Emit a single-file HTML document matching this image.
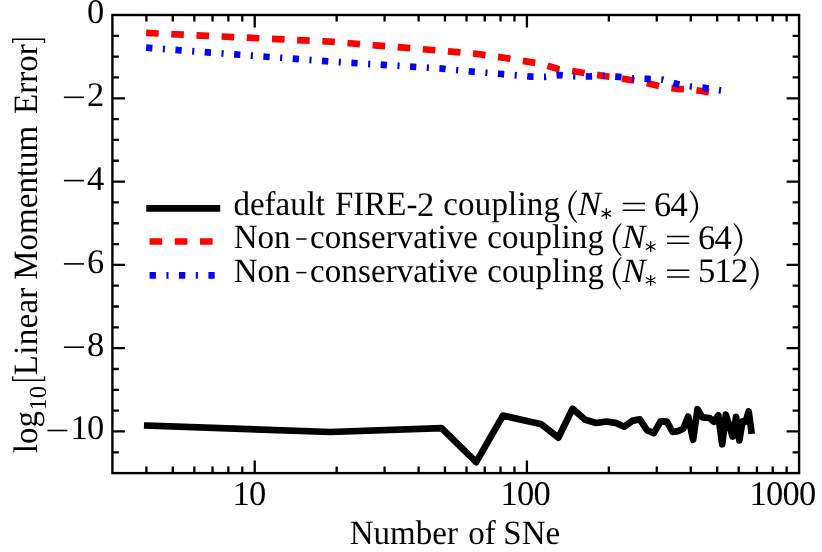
<!DOCTYPE html><html><head><meta charset="utf-8"><title>chart</title><style>html,body{margin:0;padding:0;background:#fff;}svg{display:block;will-change:transform;}text{font-family:"Liberation Serif",serif;fill:#000;text-rendering:geometricPrecision;}</style></head><body>
<svg width="822" height="552" viewBox="0 0 822 552">
<rect x="0" y="0" width="822" height="552" fill="#fff"/>
<polyline points="147.3,425.6 330.2,432.0 441.6,428.2 476.2,462.2 502.9,415.6 541.5,424.3 558.3,437.7 572.6,408.7 585.2,419.8 596.2,423.0 606.5,421.5 615.6,422.9 624.2,426.7 632.8,420.6 639.8,419.4 647.2,430.3 653.8,433.1 660.6,421.3 666.9,421.7 672.6,432.0 677.9,431.1 683.2,428.8 688.2,416.5 693.1,439.8 697.5,409.2 702.4,417.4 709.6,418.0 713.9,421.8 718.3,415.3 722.2,444.3 725.8,414.7 732.6,436.6 736.1,416.9 739.3,440.4 742.6,421.3 745.5,421.8 748.7,411.4 751.3,430.6" fill="none" stroke="#000" stroke-width="6.7" stroke-linejoin="round" stroke-linecap="square"/>
<polyline points="146.1,32.9 330.0,41.6 442.0,50.8 476.0,53.8 503.0,57.6 541.0,63.8 558.0,69.0 572.0,71.0 604.0,76.0 629.0,79.7 641.0,81.5 654.0,84.8 666.0,87.5 678.0,88.8 691.0,89.5 710.0,92.3" fill="none" stroke="#f00" stroke-width="6.7" stroke-linejoin="miter" stroke-dasharray="12.6 12.6"/>
<polyline points="146.1,47.7 330.0,61.5 442.0,68.6 476.0,72.0 503.0,74.2 531.0,76.6 545.0,76.8 560.0,75.0 574.0,76.2 589.0,76.5 604.0,75.9 619.0,76.9 633.0,78.3 648.0,78.9 663.0,79.7 677.0,84.0 691.0,86.5 706.0,88.0 721.0,90.5" fill="none" stroke="#00f" stroke-width="6.7" stroke-linejoin="miter" stroke-dasharray="6.3 10.5 2.1 10.5"/>
<path d="M146.41,473.10v-6.50M146.41,15.00v6.50M172.78,473.10v-6.50M172.78,15.00v6.50M194.34,473.10v-6.50M194.34,15.00v6.50M212.56,473.10v-6.50M212.56,15.00v6.50M228.34,473.10v-6.50M228.34,15.00v6.50M242.27,473.10v-6.50M242.27,15.00v6.50M254.72,473.10v-12.50M254.72,15.00v12.50M336.66,473.10v-6.50M336.66,15.00v6.50M384.59,473.10v-6.50M384.59,15.00v6.50M418.60,473.10v-6.50M418.60,15.00v6.50M444.97,473.10v-6.50M444.97,15.00v6.50M466.53,473.10v-6.50M466.53,15.00v6.50M484.75,473.10v-6.50M484.75,15.00v6.50M500.53,473.10v-6.50M500.53,15.00v6.50M514.46,473.10v-6.50M514.46,15.00v6.50M526.91,473.10v-12.50M526.91,15.00v12.50M608.85,473.10v-6.50M608.85,15.00v6.50M656.78,473.10v-6.50M656.78,15.00v6.50M690.79,473.10v-6.50M690.79,15.00v6.50M717.16,473.10v-6.50M717.16,15.00v6.50M738.72,473.10v-6.50M738.72,15.00v6.50M756.94,473.10v-6.50M756.94,15.00v6.50M772.72,473.10v-6.50M772.72,15.00v6.50M786.65,473.10v-6.50M786.65,15.00v6.50M112.40,35.82h6.50M799.10,35.82h-6.50M112.40,56.65h6.50M799.10,56.65h-6.50M112.40,77.47h6.50M799.10,77.47h-6.50M112.40,98.29h12.50M799.10,98.29h-12.50M112.40,119.11h6.50M799.10,119.11h-6.50M112.40,139.94h6.50M799.10,139.94h-6.50M112.40,160.76h6.50M799.10,160.76h-6.50M112.40,181.58h12.50M799.10,181.58h-12.50M112.40,202.40h6.50M799.10,202.40h-6.50M112.40,223.23h6.50M799.10,223.23h-6.50M112.40,244.05h6.50M799.10,244.05h-6.50M112.40,264.87h12.50M799.10,264.87h-12.50M112.40,285.70h6.50M799.10,285.70h-6.50M112.40,306.52h6.50M799.10,306.52h-6.50M112.40,327.34h6.50M799.10,327.34h-6.50M112.40,348.16h12.50M799.10,348.16h-12.50M112.40,368.99h6.50M799.10,368.99h-6.50M112.40,389.81h6.50M799.10,389.81h-6.50M112.40,410.63h6.50M799.10,410.63h-6.50M112.40,431.45h12.50M799.10,431.45h-12.50M112.40,452.28h6.50M799.10,452.28h-6.50" fill="none" stroke="#000" stroke-width="2.3"/>
<rect x="112.40" y="15.00" width="686.70" height="458.10" fill="none" stroke="#000" stroke-width="2.4"/>
<text x="87.0" y="22.9" font-size="34.5" letter-spacing="-0.75">0</text>
<text x="87.0" y="106.2" font-size="34.5" letter-spacing="-0.75">2</text>
<line x1="63.9" y1="97.3" x2="83.9" y2="97.3" stroke="#000" stroke-width="1.6"/>
<text x="87.0" y="189.5" font-size="34.5" letter-spacing="-0.75">4</text>
<line x1="63.9" y1="180.6" x2="83.9" y2="180.6" stroke="#000" stroke-width="1.6"/>
<text x="87.0" y="272.8" font-size="34.5" letter-spacing="-0.75">6</text>
<line x1="63.9" y1="263.9" x2="83.9" y2="263.9" stroke="#000" stroke-width="1.6"/>
<text x="87.0" y="356.1" font-size="34.5" letter-spacing="-0.75">8</text>
<line x1="63.9" y1="347.2" x2="83.9" y2="347.2" stroke="#000" stroke-width="1.6"/>
<text x="70.5" y="439.4" font-size="34.5" letter-spacing="-0.75">10</text>
<line x1="47.4" y1="430.5" x2="67.4" y2="430.5" stroke="#000" stroke-width="1.6"/>
<text x="232.4" y="504.7" font-size="34.5" letter-spacing="-0.75">10</text>
<text x="500.4" y="504.7" font-size="34.5" letter-spacing="-0.75">100</text>
<text x="749.4" y="504.7" font-size="34.5" letter-spacing="-0.75">1000</text>
<text transform="translate(349.8,544.2) scale(0.9677,1)" font-size="34.1" >Number</text>
<text transform="translate(468.2,544.2) scale(0.9677,1)" font-size="34.1" >of</text>
<text transform="translate(503.3,544.2) scale(0.9677,1)" font-size="34.1" >SNe</text>
<g transform="translate(37,0) rotate(-90)">
<text transform="translate(-453.2,0.0) scale(0.9677,1)" font-size="34.1" >log</text>
<text x="-410.6" y="8.8" font-size="24.6">10</text>
<text transform="translate(-375.2,0.0) scale(0.9677,1)" font-size="34.1" letter-spacing="0.3">Linear</text>
<text transform="translate(-279.7,0.0) scale(0.9677,1)" font-size="34.1" >Momentum</text>
<text transform="translate(-113.9,0.0) scale(0.9677,1)" font-size="34.1" >Error</text>
<path d="M-376.3,-24.3H-380.3V7.5H-376.3" fill="none" stroke="#000" stroke-width="1.4"/>
<path d="M-43.1,-24.3H-39.2V7.5H-43.1" fill="none" stroke="#000" stroke-width="1.4"/>
</g>
<line x1="149.6" y1="208.3" x2="216.85" y2="208.3" stroke="#000" stroke-width="6.7" stroke-linecap="square"/>
<line x1="149.6" y1="241.5" x2="216.85" y2="241.5" stroke="#f00" stroke-width="6.7" stroke-dasharray="12.6 12.6"/>
<line x1="149.6" y1="275.3" x2="216.85" y2="275.3" stroke="#00f" stroke-width="6.7" stroke-dasharray="6.3 10.5 2.1 10.5"/>
<text transform="translate(233.4,215.1) scale(0.9677,1)" font-size="34.1" >default</text>
<text transform="translate(335.0,215.1) scale(0.9677,1)" font-size="34.1" >FIRE-</text>
<text x="416.9" y="215.5" font-size="34.5">2</text>
<text transform="translate(443.2,215.1) scale(0.9677,1)" font-size="34.1" letter-spacing="0.2">coupling</text>
<path d="M576.50,190.20C565.73,199.70 565.73,213.50 576.50,223.00L577.20,222.50C568.50,212.50 568.50,200.70 577.20,190.70Z" fill="#000"/>
<text transform="translate(578.1,215.1) scale(1.0113,1)" font-size="34.1" font-style="italic">N</text>
<path d="M606.30,208.60L606.30,218.60M601.97,211.10L610.63,216.10M610.63,211.10L601.97,216.10" stroke="#000" stroke-width="1.3" fill="none" stroke-linecap="round"/>
<path d="M622.7,203.5h22.2M622.7,210.2h22.2" stroke="#000" stroke-width="1.5" fill="none"/>
<text x="653.9" y="215.5" font-size="34.5" letter-spacing="-0.75">64</text>
<path d="M690.10,190.20C700.87,199.70 700.87,213.50 690.10,223.00L689.40,222.50C698.10,212.50 698.10,200.70 689.40,190.70Z" fill="#000"/>
<text transform="translate(233.8,248.2) scale(0.9677,1)" font-size="34.1" >Non</text>
<line x1="296.2" y1="239.0" x2="306.5" y2="239.0" stroke="#000" stroke-width="1.5"/>
<text transform="translate(310.0,248.2) scale(0.9677,1)" font-size="34.1" letter-spacing="0.12">conservative</text>
<text transform="translate(487.2,248.2) scale(0.9677,1)" font-size="34.1" letter-spacing="0.2">coupling</text>
<path d="M620.90,223.30C610.13,232.80 610.13,246.60 620.90,256.10L621.60,255.60C612.90,245.60 612.90,233.80 621.60,223.80Z" fill="#000"/>
<text transform="translate(622.5,248.2) scale(1.0113,1)" font-size="34.1" font-style="italic">N</text>
<path d="M650.70,241.70L650.70,251.70M646.37,244.20L655.03,249.20M655.03,244.20L646.37,249.20" stroke="#000" stroke-width="1.3" fill="none" stroke-linecap="round"/>
<path d="M667.1,236.6h22.2M667.1,243.3h22.2" stroke="#000" stroke-width="1.5" fill="none"/>
<text x="698.0" y="248.6" font-size="34.5" letter-spacing="-0.75">64</text>
<path d="M734.20,223.30C744.97,232.80 744.97,246.60 734.20,256.10L733.50,255.60C742.20,245.60 742.20,233.80 733.50,223.80Z" fill="#000"/>
<text transform="translate(233.8,281.8) scale(0.9677,1)" font-size="34.1" >Non</text>
<line x1="296.2" y1="272.6" x2="306.5" y2="272.6" stroke="#000" stroke-width="1.5"/>
<text transform="translate(310.0,281.8) scale(0.9677,1)" font-size="34.1" letter-spacing="0.12">conservative</text>
<text transform="translate(487.2,281.8) scale(0.9677,1)" font-size="34.1" letter-spacing="0.2">coupling</text>
<path d="M620.90,256.90C610.13,266.40 610.13,280.20 620.90,289.70L621.60,289.20C612.90,279.20 612.90,267.40 621.60,257.40Z" fill="#000"/>
<text transform="translate(622.5,281.8) scale(1.0113,1)" font-size="34.1" font-style="italic">N</text>
<path d="M650.70,275.30L650.70,285.30M646.37,277.80L655.03,282.80M655.03,277.80L646.37,282.80" stroke="#000" stroke-width="1.3" fill="none" stroke-linecap="round"/>
<path d="M667.1,270.2h22.2M667.1,276.9h22.2" stroke="#000" stroke-width="1.5" fill="none"/>
<text x="698.0" y="282.2" font-size="34.5" letter-spacing="-0.75">512</text>
<path d="M750.70,256.90C761.47,266.40 761.47,280.20 750.70,289.70L750.00,289.20C758.70,279.20 758.70,267.40 750.00,257.40Z" fill="#000"/>
</svg></body></html>
